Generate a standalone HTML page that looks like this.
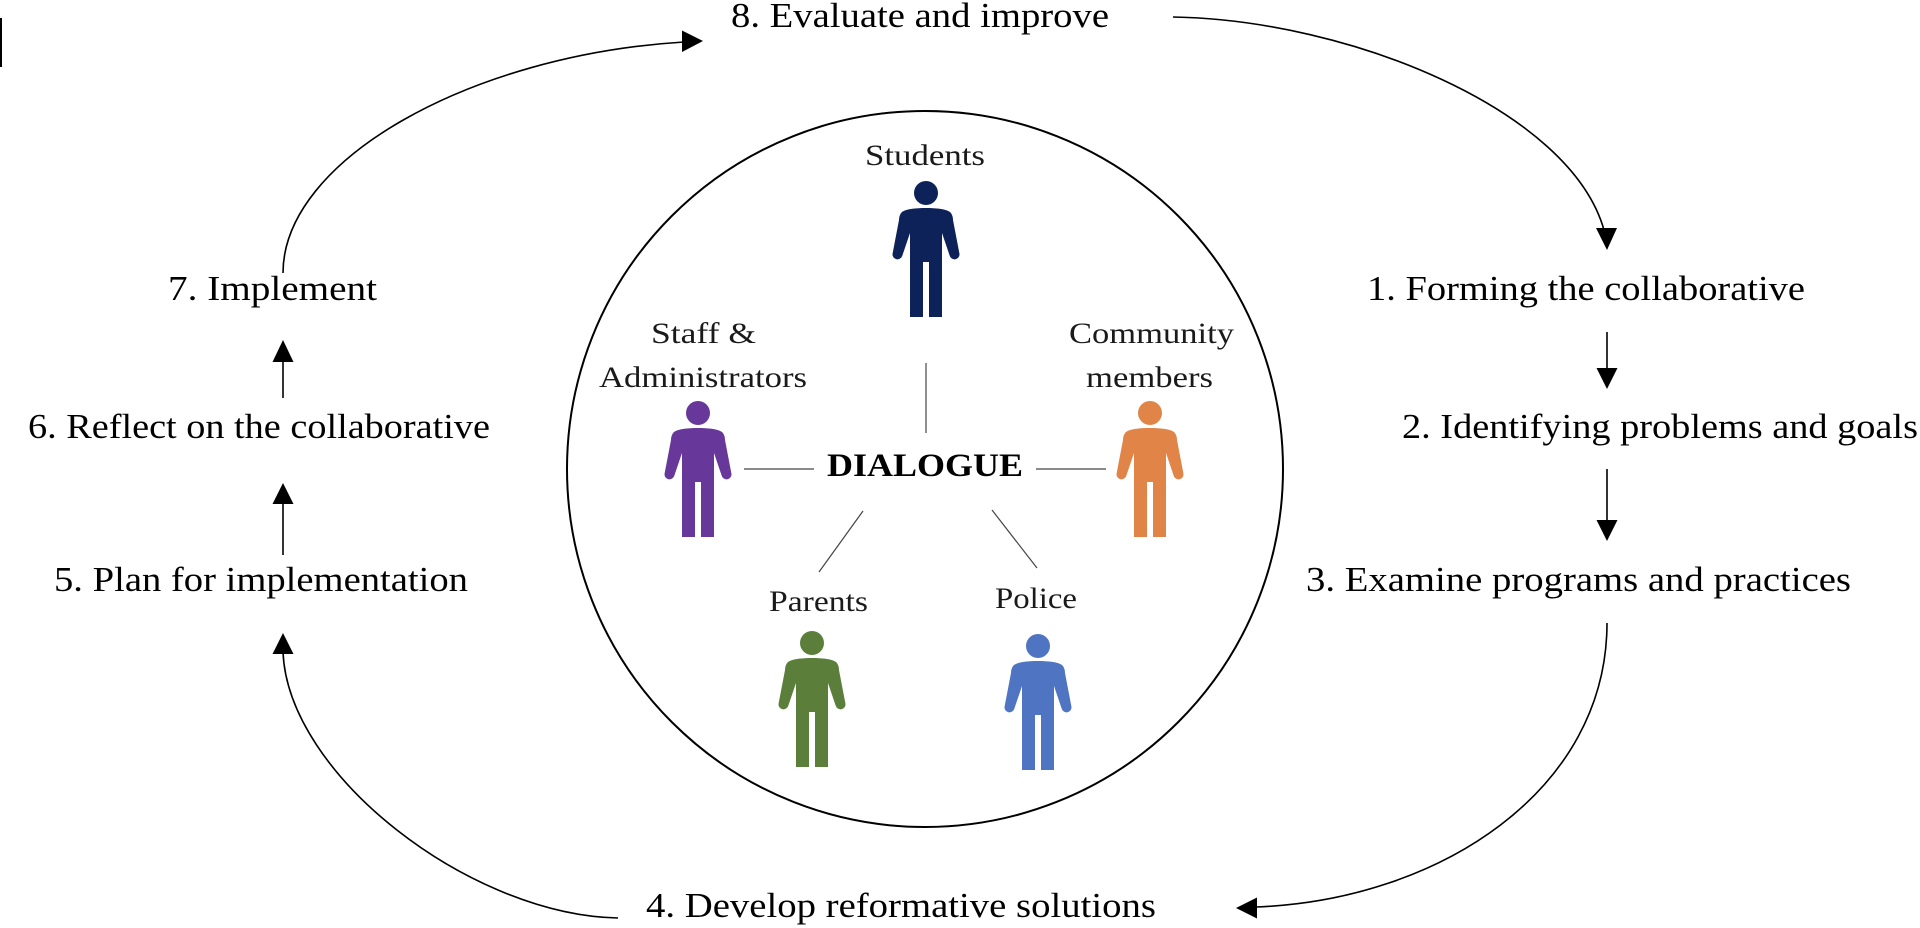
<!DOCTYPE html>
<html>
<head>
<meta charset="utf-8">
<style>
  html, body { margin: 0; padding: 0; background: #ffffff; }
  body { width: 1920px; height: 928px; overflow: hidden; }
  svg { display: block; }
  .main { font-family: "Liberation Serif", serif; font-size: 35px; fill: #000; }
  .inner { font-family: "Liberation Serif", serif; font-size: 30px; fill: #1a1a1a; }
  .bold { font-family: "Liberation Serif", serif; font-size: 33px; font-weight: bold; fill: #000; }
</style>
</head>
<body>
<svg width="1920" height="928" viewBox="0 0 1920 928" xmlns="http://www.w3.org/2000/svg">
  <defs>
    <path id="person" d="M 0 15 C 10 15, 20 16, 24 19 C 26 21, 27 24, 27 27 L 33.5 61 A 5 5 0 0 1 23.8 63 L 16 40 L 16 124 L 3 124 L 3 69 L -3 69 L -3 124 L -16 124 L -16 40 L -23.8 63 A 5 5 0 0 1 -33.5 61 L -27 27 C -27 24, -26 21, -24 19 C -20 16, -10 15, 0 15 Z"/>
  </defs>

  <!-- small bar top-left -->
  <rect x="0" y="18" width="2" height="49" fill="#000"/>

  <!-- big circle -->
  <ellipse cx="925" cy="469" rx="358" ry="358" fill="none" stroke="#000" stroke-width="2"/>

  <!-- curved arrows -->
  <g fill="none" stroke="#000" stroke-width="1.6">
    <path d="M 283 273 C 283 160, 470 55, 684 42"/>
    <path d="M 1173 17 C 1350 20, 1570 110, 1604 230"/>
    <path d="M 1607 623 C 1607 790, 1440 900, 1256 907"/>
    <path d="M 618 918 C 470 915, 288 775, 283 652"/>
  </g>
  <g fill="#000">
    <polygon points="703,41 682,30.5 682,52"/>
    <polygon points="1607,250 1596,228 1617,228"/>
    <polygon points="1236,908 1257,897.5 1257,918.5"/>
    <polygon points="283,633 272.5,654 293.5,654"/>
  </g>

  <!-- straight arrows -->
  <g stroke="#000" stroke-width="1.6">
    <line x1="283" y1="398" x2="283" y2="360"/>
    <line x1="283" y1="555" x2="283" y2="502"/>
    <line x1="1607" y1="332" x2="1607" y2="370"/>
    <line x1="1607" y1="469" x2="1607" y2="522"/>
  </g>
  <g fill="#000">
    <polygon points="283,340 272.5,362 293.5,362"/>
    <polygon points="283,483 272.5,504 293.5,504"/>
    <polygon points="1607,389 1596.5,368 1617.5,368"/>
    <polygon points="1607,541 1596.5,520 1617.5,520"/>
  </g>

  <!-- dialogue connectors -->
  <g stroke="#444" stroke-width="1.2">
    <line x1="926" y1="363" x2="926" y2="433"/>
    <line x1="744" y1="469" x2="814" y2="469"/>
    <line x1="1036" y1="469" x2="1106" y2="469"/>
    <line x1="863" y1="511" x2="819" y2="572"/>
    <line x1="992" y1="510" x2="1037" y2="568"/>
  </g>

  <!-- people -->
  <g fill="#0c2259">
    <circle cx="926" cy="193" r="12"/>
    <use href="#person" x="926" y="193"/>
  </g>
  <g fill="#673899">
    <circle cx="698" cy="413" r="12"/>
    <use href="#person" x="698" y="413"/>
  </g>
  <g fill="#e08448">
    <circle cx="1150" cy="413" r="12"/>
    <use href="#person" x="1150" y="413"/>
  </g>
  <g fill="#5b7f3b">
    <circle cx="812" cy="643" r="12"/>
    <use href="#person" x="812" y="643"/>
  </g>
  <g fill="#4f74c2">
    <circle cx="1038" cy="646" r="12"/>
    <use href="#person" x="1038" y="646"/>
  </g>

  <!-- main step labels -->
  <text class="main" x="731" y="27" textLength="378" lengthAdjust="spacingAndGlyphs">8. Evaluate and improve</text>
  <text class="main" x="168" y="300" textLength="209" lengthAdjust="spacingAndGlyphs">7. Implement</text>
  <text class="main" x="28" y="438" textLength="462" lengthAdjust="spacingAndGlyphs">6. Reflect on the collaborative</text>
  <text class="main" x="54" y="591" textLength="414" lengthAdjust="spacingAndGlyphs">5. Plan for implementation</text>
  <text class="main" x="646" y="917" textLength="510" lengthAdjust="spacingAndGlyphs">4. Develop reformative solutions</text>
  <text class="main" x="1306" y="591" textLength="545" lengthAdjust="spacingAndGlyphs">3. Examine programs and practices</text>
  <text class="main" x="1402" y="438" textLength="516" lengthAdjust="spacingAndGlyphs">2. Identifying problems and goals</text>
  <text class="main" x="1367" y="300" textLength="438" lengthAdjust="spacingAndGlyphs">1. Forming the collaborative</text>

  <!-- inner labels -->
  <text class="inner" x="865" y="165" textLength="120" lengthAdjust="spacingAndGlyphs">Students</text>
  <text class="inner" x="651" y="343" textLength="105" lengthAdjust="spacingAndGlyphs">Staff &amp;</text>
  <text class="inner" x="599" y="387" textLength="208" lengthAdjust="spacingAndGlyphs">Administrators</text>
  <text class="inner" x="1069" y="343" textLength="165" lengthAdjust="spacingAndGlyphs">Community</text>
  <text class="inner" x="1086" y="387" textLength="127" lengthAdjust="spacingAndGlyphs">members</text>
  <text class="inner" x="769" y="611" textLength="99" lengthAdjust="spacingAndGlyphs">Parents</text>
  <text class="inner" x="995" y="608" textLength="82" lengthAdjust="spacingAndGlyphs">Police</text>
  <text class="bold" x="827" y="476" textLength="196" lengthAdjust="spacingAndGlyphs">DIALOGUE</text>
</svg>
</body>
</html>
